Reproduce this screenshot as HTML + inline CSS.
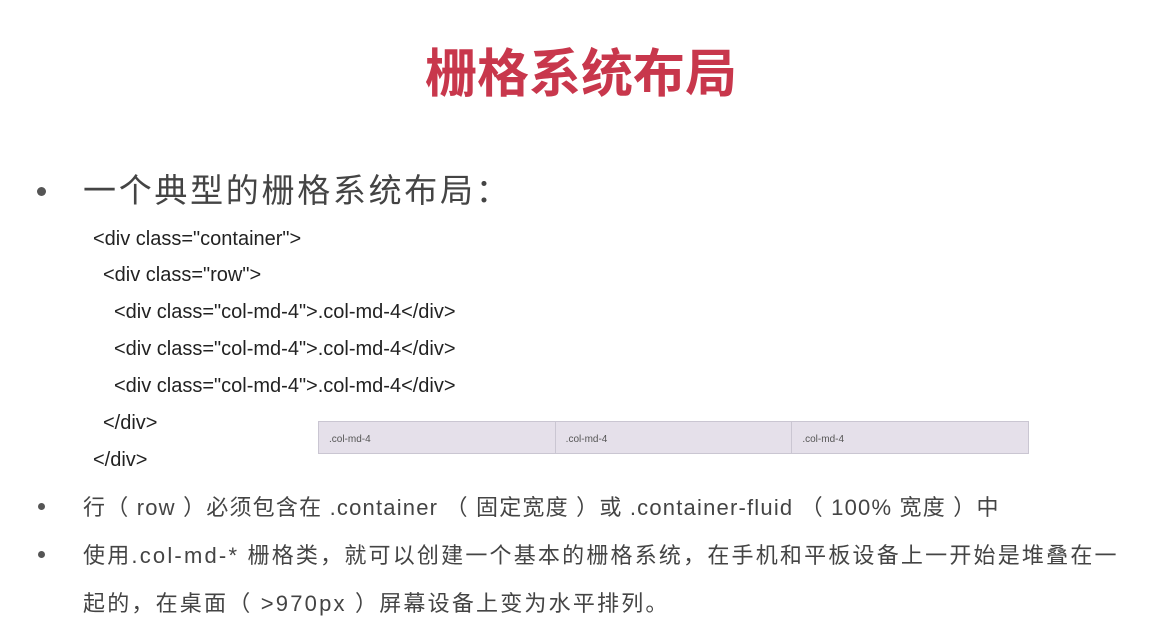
<!DOCTYPE html>
<html><head><meta charset="utf-8"><style>
body{margin:0;width:1172px;height:643px;background:#fff;position:relative;overflow:hidden;font-family:"Liberation Sans","Noto Sans CJK SC",sans-serif;color:#333}
.a{position:absolute;white-space:nowrap}
.t{left:0;width:1162px;text-align:center;top:40px;font-size:52px;font-weight:bold;color:#c8374c;line-height:70px}
.b{font-size:22px;color:#444;letter-spacing:1.2px}
.code{font-size:20px;color:#222;line-height:20px}
.grid{position:absolute;left:318px;top:421px;width:711px;height:33px;display:flex;border:1px solid #cac6d2;box-sizing:border-box;background:#e5e0ea}
.grid div{flex:1;border-right:1px solid #cac6d2;font-size:10px;color:#555;padding:12px 0 0 10px}
.grid div:last-child{border-right:none}
.d{position:absolute;width:7px;height:7px;border-radius:50%;background:#555}
</style></head><body>
<div class="a t">栅格系统布局</div>
<div class="d" style="left:37px;top:187px;width:9px;height:9px"></div>
<div class="a" style="left:83px;top:171px;font-size:33px;color:#444;line-height:40px;letter-spacing:2.7px">一个典型的栅格系统布局：</div>
<div class="a code" style="left:93px;top:229px">&lt;div class="container"&gt;</div>
<div class="a code" style="left:103px;top:265px">&lt;div class="row"&gt;</div>
<div class="a code" style="left:114px;top:302px">&lt;div class="col-md-4"&gt;.col-md-4&lt;/div&gt;</div>
<div class="a code" style="left:114px;top:339px">&lt;div class="col-md-4"&gt;.col-md-4&lt;/div&gt;</div>
<div class="a code" style="left:114px;top:376px">&lt;div class="col-md-4"&gt;.col-md-4&lt;/div&gt;</div>
<div class="a code" style="left:103px;top:413px">&lt;/div&gt;</div>
<div class="a code" style="left:93px;top:450px">&lt;/div&gt;</div>
<div class="grid"><div>.col-md-4</div><div>.col-md-4</div><div>.col-md-4</div></div>
<div class="d" style="left:38px;top:503px"></div>
<div class="a b" style="left:83px;top:490px">行（ row ）必须包含在 .container （ 固定宽度 ）或 .container-fluid （ 100% 宽度 ）中</div>
<div class="d" style="left:38px;top:551px"></div>
<div class="a b" style="left:83px;top:538px;letter-spacing:2.2px">使用.col-md-* 栅格类，就可以创建一个基本的栅格系统，在手机和平板设备上一开始是堆叠在一</div>
<div class="a b" style="left:83px;top:586px;letter-spacing:2.2px">起的，在桌面（ &gt;970px ）屏幕设备上变为水平排列。</div>
</body></html>
